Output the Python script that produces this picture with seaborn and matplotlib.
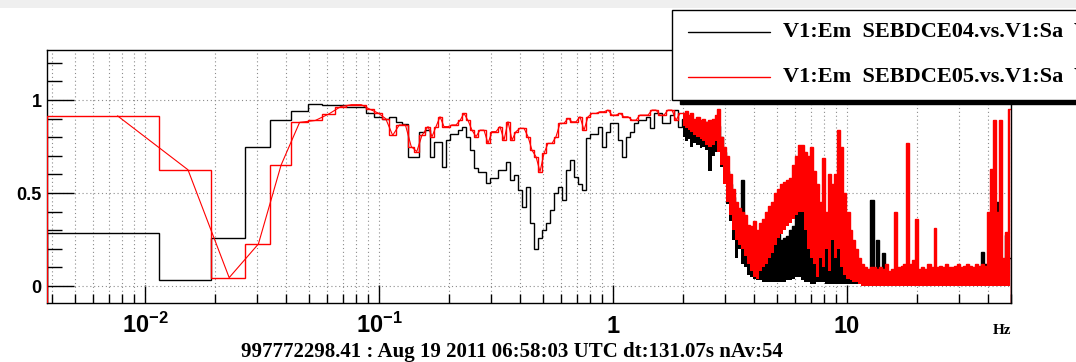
import numpy as np
import matplotlib
matplotlib.use("Agg")
import matplotlib.pyplot as plt
from matplotlib.patches import Rectangle
from matplotlib.lines import Line2D
from matplotlib.ticker import LogLocator, FixedLocator, NullFormatter
import seaborn as sns

# ------------------------------------------------------------
# coherence data (Hz / coherence)
# ------------------------------------------------------------
# low bins: one value per FFT bin (df = 1/131.07 s)
freq_low = [0.00763, 0.01526, 0.02289, 0.03052, 0.03815, 0.04578, 0.05341,
            0.06104, 0.06867, 0.07630, 0.08392, 0.09155, 0.09918, 0.1068,
            0.1144, 0.1221, 0.1297, 0.1373, 0.1450, 0.1526]
coh04_low = [0.285, 0.03, 0.26, 0.75, 0.89, 0.94, 0.98, 0.975, 0.975, 0.965,
             0.965, 0.93, 0.907, 0.90, 0.907, 0.883, 0.869, 0.695, 0.695, 0.83]
coh05_low = [0.915, 0.625, 0.045, 0.226, 0.65, 0.88, 0.89, 0.925, 0.965, 0.975,
             0.975, 0.95, 0.93, 0.90, 0.81, 0.866, 0.866, 0.75, 0.723, 0.81]

# mid band: sampled points
freq_mid = [0.1620, 0.1685, 0.1752, 0.1823, 0.1896, 0.1972, 0.2051, 0.2133,
            0.2219, 0.2308, 0.2401, 0.2497, 0.2597, 0.2702, 0.2810, 0.2923,
            0.3040, 0.3162, 0.3289, 0.3421, 0.3559, 0.3702, 0.3850, 0.4005,
            0.4166, 0.4333, 0.4507, 0.4688, 0.4876, 0.5072, 0.5275, 0.5487,
            0.5708, 0.5937, 0.6175, 0.6423, 0.6681, 0.6949, 0.7228, 0.7518,
            0.7820, 0.8134, 0.8460, 0.8800, 0.9153, 0.9521, 0.9903, 1.030,
            1.071, 1.114, 1.159, 1.206, 1.254, 1.304, 1.357, 1.411,
            1.468, 1.527, 1.588, 1.652, 1.718, 1.787, 1.859, 1.934]
coh04_mid = [0.84, 0.695, 0.776, 0.776, 0.638, 0.785, 0.82, 0.82,
             0.84, 0.857, 0.80, 0.73, 0.633, 0.615, 0.615, 0.556,
             0.579, 0.579, 0.624, 0.624, 0.668, 0.57, 0.597, 0.516,
             0.427, 0.534, 0.337, 0.20, 0.26, 0.301, 0.337, 0.409,
             0.498, 0.534, 0.462, 0.624, 0.677, 0.588, 0.55, 0.516,
             0.794, 0.82, 0.82, 0.857, 0.75, 0.83, 0.875, 0.875,
             0.785, 0.695, 0.803, 0.83, 0.875, 0.892, 0.892, 0.91,
             0.848, 0.928, 0.928, 0.875, 0.875, 0.919, 0.946, 0.857]
coh05_mid = [0.857, 0.803, 0.857, 0.91, 0.857, 0.857, 0.866, 0.866,
             0.89, 0.928, 0.89, 0.838, 0.803, 0.838, 0.838, 0.767,
             0.83, 0.83, 0.857, 0.785, 0.883, 0.785, 0.83, 0.848,
             0.848, 0.803, 0.73, 0.695, 0.615, 0.713, 0.767, 0.767,
             0.803, 0.875, 0.875, 0.901, 0.883, 0.883, 0.91, 0.838,
             0.91, 0.928, 0.928, 0.937, 0.937, 0.946, 0.919, 0.919,
             0.928, 0.91, 0.91, 0.892, 0.892, 0.919, 0.919, 0.919,
             0.946, 0.946, 0.919, 0.919, 0.946, 0.946, 0.892, 0.928]

# high band: too dense to resolve bins -> band bottom / top read per sample
freq_high = [1.991, 2.051, 2.112, 2.175, 2.240, 2.308, 2.377, 2.448, 2.521, 2.597,
             2.675, 2.755, 2.837, 2.922, 3.010, 3.100, 3.193, 3.288, 3.387, 3.488,
             3.593, 3.700, 3.811, 3.925, 4.043, 4.164, 4.289, 4.417, 4.550, 4.686,
             4.826, 4.971, 5.120, 5.273, 5.431, 5.594, 5.761, 5.934, 6.112, 6.295,
             6.483, 6.678, 6.878, 7.084, 7.296, 7.515, 7.740, 7.972, 8.211, 8.457,
             8.710, 8.971, 9.240, 9.517, 9.802, 10.10, 10.40, 10.71, 11.03, 11.36,
             11.70, 12.05, 12.41, 12.79, 13.17, 13.56, 13.97, 14.39, 14.82, 15.26,
             15.72, 16.19, 16.68, 17.18, 17.69, 18.22, 18.77, 19.33, 19.91, 20.51,
             21.12, 21.75, 22.41, 23.08, 23.77, 24.48, 25.21, 25.97, 26.75, 27.55,
             28.37, 29.22, 30.10, 31.00, 31.93, 32.88, 33.87, 34.88, 35.93, 37.00,
             38.11, 39.25, 40.43, 41.64, 42.89, 44.17, 45.50, 46.86, 48.26, 49.71]
coh04_high_top = [0.90, 0.89, 0.90, 0.88, 0.89, 0.87, 0.86, 0.87, 0.88, 0.85,
                  0.86, 0.87, 0.86, 0.80, 0.72, 0.62, 0.55, 0.48, 0.42, 0.40,
                  0.57, 0.32, 0.28, 0.25, 0.22, 0.20, 0.25, 0.22, 0.25, 0.24,
                  0.26, 0.25, 0.28, 0.25, 0.26, 0.27, 0.30, 0.32, 0.40, 0.45,
                  0.45, 0.40, 0.38, 0.35, 0.40, 0.45, 0.35, 0.35, 0.30, 0.30,
                  0.30, 0.40, 0.49, 0.35, 0.30, 0.25, 0.20, 0.18, 0.15, 0.12,
                  0.10, 0.08, 0.06, 0.46, 0.08, 0.25, 0.07, 0.18, 0.06, 0.06,
                  0.06, 0.05, 0.08, 0.06, 0.07, 0.06, 0.07, 0.06, 0.09, 0.07,
                  0.06, 0.07, 0.06, 0.07, 0.06, 0.07, 0.06, 0.07, 0.08, 0.06,
                  0.07, 0.06, 0.08, 0.07, 0.06, 0.08, 0.07, 0.06, 0.09, 0.10,
                  0.185, 0.12, 0.10, 0.10, 0.20, 0.45, 0.15, 0.12, 0.276, 0.15]
coh04_high_bot = [0.80, 0.78, 0.79, 0.75, 0.77, 0.76, 0.74, 0.75, 0.73, 0.62,
                  0.70, 0.72, 0.72, 0.64, 0.56, 0.44, 0.35, 0.25, 0.15, 0.20,
                  0.12, 0.10, 0.06, 0.05, 0.04, 0.03, 0.03, 0.02, 0.02, 0.02,
                  0.02, 0.02, 0.02, 0.02, 0.02, 0.03, 0.03, 0.04, 0.05, 0.05,
                  0.03, 0.02, 0.02, 0.01, 0.01, 0.02, 0.02, 0.02, 0.01, 0.01,
                  0.01, 0.01, 0.01, 0.01, 0.01, 0.01, 0.01, 0.01, 0.01, 0.01,
                  0.0, 0.0, 0.0, 0.0, 0.0, 0.0, 0.0, 0.0, 0.0, 0.0,
                  0.0, 0.0, 0.0, 0.0, 0.0, 0.0, 0.0, 0.0, 0.0, 0.0,
                  0.0, 0.0, 0.0, 0.0, 0.0, 0.0, 0.0, 0.0, 0.0, 0.0,
                  0.0, 0.0, 0.0, 0.0, 0.0, 0.0, 0.0, 0.0, 0.0, 0.0,
                  0.0, 0.0, 0.0, 0.0, 0.0, 0.0, 0.0, 0.0, 0.0, 0.0]
coh05_high_top = [0.93, 0.94, 0.92, 0.93, 0.90, 0.91, 0.89, 0.90, 0.88, 0.89,
                  0.90, 0.92, 0.95, 0.80, 0.75, 0.70, 0.60, 0.52, 0.45, 0.42,
                  0.40, 0.38, 0.33, 0.32, 0.35, 0.30, 0.34, 0.36, 0.40, 0.43,
                  0.45, 0.50, 0.52, 0.55, 0.56, 0.57, 0.58, 0.65, 0.70, 0.76,
                  0.76, 0.72, 0.70, 0.75, 0.62, 0.55, 0.45, 0.69, 0.40, 0.60,
                  0.55, 0.60, 0.84, 0.75, 0.50, 0.40, 0.30, 0.25, 0.20, 0.15,
                  0.12, 0.10, 0.09, 0.10, 0.10, 0.09, 0.10, 0.09, 0.12, 0.08,
                  0.09, 0.40, 0.10, 0.11, 0.12, 0.77, 0.12, 0.14, 0.36, 0.09,
                  0.10, 0.09, 0.12, 0.10, 0.31, 0.10, 0.11, 0.10, 0.12, 0.10,
                  0.10, 0.11, 0.12, 0.10, 0.11, 0.12, 0.11, 0.10, 0.12, 0.11,
                  0.12, 0.11, 0.40, 0.63, 0.89, 0.40, 0.89, 0.15, 0.29, 0.95]
coh05_high_bot = [0.86, 0.85, 0.84, 0.83, 0.81, 0.80, 0.79, 0.78, 0.76, 0.75,
                  0.76, 0.78, 0.72, 0.65, 0.55, 0.45, 0.38, 0.30, 0.25, 0.22,
                  0.20, 0.16, 0.12, 0.08, 0.05, 0.04, 0.08, 0.10, 0.12, 0.15,
                  0.18, 0.22, 0.26, 0.28, 0.30, 0.32, 0.34, 0.36, 0.38, 0.40,
                  0.40, 0.30, 0.20, 0.15, 0.12, 0.05, 0.15, 0.10, 0.20, 0.08,
                  0.25, 0.15, 0.20, 0.10, 0.06, 0.04, 0.03, 0.02, 0.02, 0.01,
                  0.0, 0.0, 0.0, 0.0, 0.0, 0.0, 0.0, 0.0, 0.0, 0.0,
                  0.0, 0.0, 0.0, 0.0, 0.0, 0.0, 0.0, 0.0, 0.0, 0.0,
                  0.0, 0.0, 0.0, 0.0, 0.0, 0.0, 0.0, 0.0, 0.0, 0.0,
                  0.0, 0.0, 0.0, 0.0, 0.0, 0.0, 0.0, 0.0, 0.0, 0.0,
                  0.0, 0.0, 0.0, 0.0, 0.0, 0.0, 0.0, 0.0, 0.0, 0.0]

legend_labels = ["V1:Em  SEBDCE04.vs.V1:Sa  V", "V1:Em  SEBDCE05.vs.V1:Sa  V"]
footer = "997772298.41 : Aug 19 2011 06:58:03 UTC dt:131.07s nAv:54"

# ------------------------------------------------------------
# style
# ------------------------------------------------------------
sns.set_theme(style="white")
plt.rcParams["font.family"] = ["Liberation Sans", "DejaVu Sans"]
plt.rcParams["mathtext.fontset"] = "custom"
plt.rcParams["mathtext.rm"] = "Liberation Sans:bold"
plt.rcParams["mathtext.bf"] = "Liberation Sans:bold"
plt.rcParams["mathtext.it"] = "Liberation Sans:bold"
plt.rcParams["mathtext.default"] = "rm"

W, H = 1076, 362


def fx(px):
    return px / W


def fy(py):
    return 1 - py / H


fig = plt.figure(figsize=(W / 100, H / 100), dpi=100, facecolor="white")
fig.patches.append(Rectangle((0, fy(8)), 1, 8 / H, transform=fig.transFigure,
                             facecolor="#efefef", edgecolor="none", zorder=0))

ax = fig.add_axes([fx(47), fy(303), fx(1011 - 47), (303 - 50) / H])
ax.set_facecolor("white")

freq = np.array(freq_low + freq_mid + freq_high)
c04 = np.array(coh04_low + coh04_mid + coh04_high_top)
c05 = np.array(coh05_low + coh05_mid + coh05_high_top)
mids = (freq[1:] + freq[:-1]) / 2
edges = np.concatenate([[freq[0] - (freq[1] - freq[0]) / 2], mids,
                        [freq[-1] + (freq[-1] - freq[-2]) / 2]])

y0, y1 = -0.0914, 1.269

# ----------------------------------------
# curves
# ----------------------------------------
ax.stairs(c04, edges, baseline=y0, color="black", lw=1.0, zorder=3)
ax.fill_between(freq_high, coh04_high_bot, coh04_high_top, step="mid",
                color="black", lw=0, zorder=3)
ax.fill_between(freq_high, coh05_high_bot, coh05_high_top, step="mid",
                color="#ff0000", lw=0, zorder=4)
ax.stairs(c05, edges, baseline=y0, color="#ff0000", lw=1.0, zorder=4)
n_lm = len(freq_low) + len(freq_mid)
sns.lineplot(x=freq[:n_lm], y=c05[:n_lm], ax=ax, color="#ff0000", lw=0.8,
             estimator=None, sort=False, zorder=4)

# ----------------------------------------
# axes
# ----------------------------------------
ax.set_xscale("log")
ax.set_xlim(0.003812, 50.22)
ax.set_ylim(y0, y1)

ax.set_xticks([0.01, 0.1, 1, 10], labels=[r"$10^{-2}$", r"$10^{-1}$", "1", "10"],
              fontsize=17, fontweight="bold")
ax.xaxis.set_minor_locator(LogLocator(base=10, subs=np.arange(2, 10), numticks=30))
ax.xaxis.set_minor_formatter(NullFormatter())
for lab in ax.get_xticklabels():
    lab.set_verticalalignment("baseline")

ax.set_yticks([0, 0.5, 1], labels=["0", "0.5", "1"], fontsize=13, fontweight="bold")
ax.yaxis.set_minor_locator(FixedLocator([0.1, 0.2, 0.3, 0.4, 0.6, 0.7, 0.8, 0.9, 1.1, 1.2]))

ax.tick_params(axis="y", which="major", direction="in", length=19.5, width=1,
               color="black", left=True, right=False, pad=4, labelcolor="black")
ax.tick_params(axis="y", which="minor", direction="in", length=10.8, width=1,
               color="black", left=True, right=False)
ax.tick_params(axis="x", which="major", direction="in", length=13, width=1,
               color="black", bottom=True, top=False, pad=21.5, labelcolor="black")
ax.tick_params(axis="x", which="minor", direction="in", length=6.5, width=1,
               color="black", bottom=True, top=False)

ax.grid(True, which="both", axis="x", color="#8c8c8c", lw=0.8, ls=(0, (1, 2.5)))
ax.grid(True, which="major", axis="y", color="#8c8c8c", lw=0.8, ls=(0, (1, 2.5)))
ax.set_axisbelow(True)
for sp in ax.spines.values():
    sp.set_color("black")
    sp.set_linewidth(1.0)

# ----------------------------------------
# legend box (ROOT style, clipped at the right edge)
# ----------------------------------------
fig.patches.append(Rectangle((fx(680), fy(104)), fx(420), 90 / H, transform=fig.transFigure,
                             facecolor="black", edgecolor="black", zorder=5))
fig.patches.append(Rectangle((fx(672), fy(100)), fx(420), 90 / H, transform=fig.transFigure,
                             facecolor="white", edgecolor="black", lw=1, zorder=6))
for row_y, col, lab in zip([32, 77], ["black", "#ff0000"], legend_labels):
    fig.add_artist(Line2D([fx(688), fx(770)], [fy(row_y), fy(row_y)], transform=fig.transFigure,
                          color=col, lw=1.0, zorder=7))
    fig.text(fx(783), fy(row_y), lab, ha="left", va="center", fontsize=16,
             fontfamily="Liberation Serif", fontweight="bold", color="black", zorder=8)

# ----------------------------------------
# texts
# ----------------------------------------
fig.text(fx(1002), fy(331), "Hz", ha="center", va="center", fontsize=11,
         fontfamily="Liberation Serif", fontweight="bold", color="black")
fig.text(fx(512), fy(352), footer, ha="center", va="center", fontsize=15,
         fontfamily="Liberation Serif", fontweight="bold", color="black")

fig.savefig("out.png", dpi=100, facecolor="white")
